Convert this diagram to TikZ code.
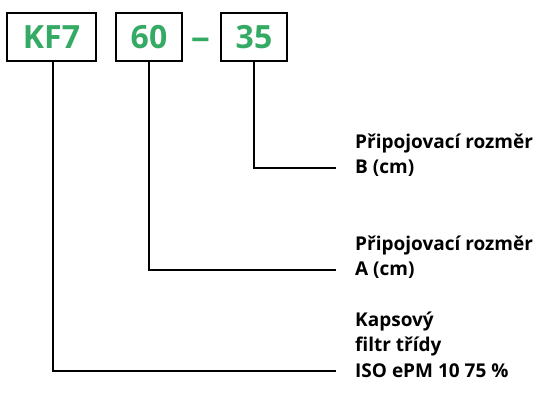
\documentclass[tikz,border=0pt]{standalone}
\usepackage{fontspec}
\setmainfont{Open Sans}
\usepackage{tikz}
\usetikzlibrary{positioning}
\definecolor{kfgreen}{RGB}{52,170,100}
\tikzset{
  codebox/.style={draw=black,line width=2.6pt,minimum height=48pt,inner sep=0pt,
    text=kfgreen,font=\fontsize{32}{32}\selectfont\bfseries},
  desc/.style={anchor=west,inner sep=0pt,font=\fontsize{19}{20}\selectfont\bfseries},
  lead/.style={draw=black,line width=2.6pt}
}
\begin{document}
\begin{tikzpicture}[x=1pt,y=-1pt]
\useasboundingbox (0,0) rectangle (536,405);
% code boxes
\node[codebox,minimum width=89pt] (kf) at (51.5,37) {KF7\hspace{14pt}};
\node[codebox,minimum width=66pt] (aa) at (149,37) {60};
\node[codebox,minimum width=66pt] (bb) at (254,37) {35};
\node[text=kfgreen,font=\fontsize{32}{32}\selectfont\bfseries,inner sep=0pt,anchor=base,xscale=1.2] (dash) at (aa.base -| 200.5,0) {–};
% descriptions
\node[desc] (b1) at (355,143) {Připojovací rozměr};
\node[desc] (b2) at (355,168) {B (cm)};
\node[desc] (a1) at (355,245) {Připojovací rozměr};
\node[desc] (a2) at (355,270) {A (cm)};
\node[desc] (k1) at (355,321) {Kapsový};
\node[desc] (k2) at (355,346) {filtr třídy};
\node[desc] (k3) at (355,371) {ISO ePM 10 75 \%};
% leaders
\draw[lead] (bb.south) |- ([xshift=-19pt]b2.west);
\draw[lead] (aa.south) |- ([xshift=-19pt]a2.west);
\draw[lead] ([xshift=1.5pt]kf.south) |- ([xshift=-19pt]k3.west);
\end{tikzpicture}
\end{document}
